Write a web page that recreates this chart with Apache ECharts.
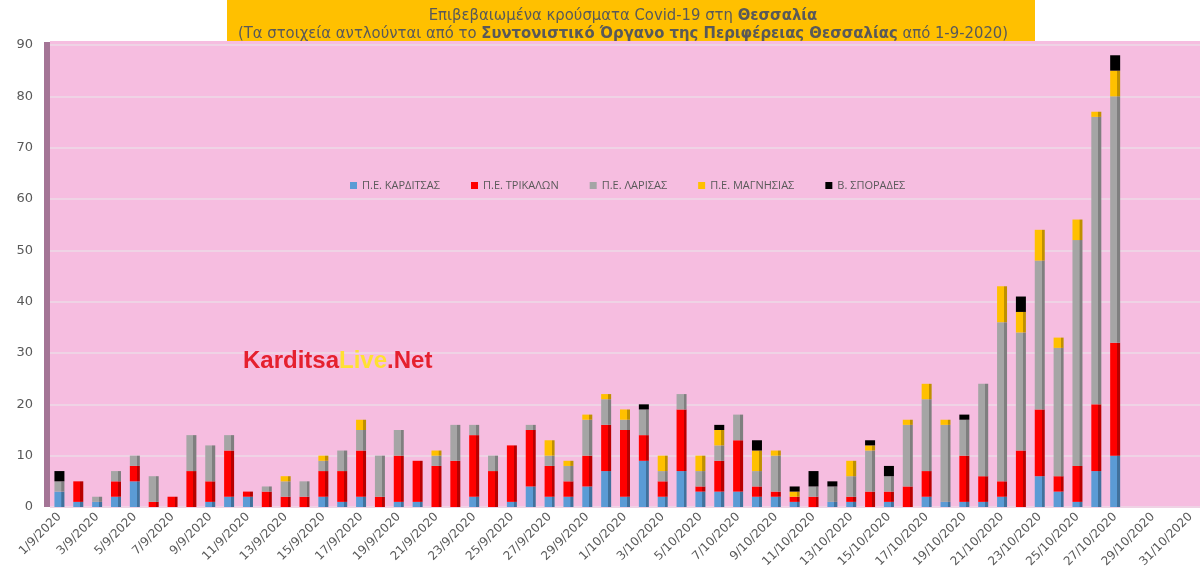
<!DOCTYPE html>
<html>
<head>
<meta charset="utf-8">
<script src="https://cdn.jsdelivr.net/npm/echarts@6/dist/echarts.min.js"></script>
<style>
  html, body { margin: 0; padding: 0; background: #fff; }
  #chart { width: 1200px; height: 583px; }
</style>
</head>
<body>
<div id="chart"></div>
<script>
// ημερομηνίες 1/9 - 31/10
const days = [
  '1/9/2020','2/9/2020','3/9/2020','4/9/2020','5/9/2020','6/9/2020','7/9/2020','8/9/2020','9/9/2020','10/9/2020',
  '11/9/2020','12/9/2020','13/9/2020','14/9/2020','15/9/2020','16/9/2020','17/9/2020','18/9/2020','19/9/2020','20/9/2020',
  '21/9/2020','22/9/2020','23/9/2020','24/9/2020','25/9/2020','26/9/2020','27/9/2020','28/9/2020','29/9/2020','30/9/2020',
  '1/10/2020','2/10/2020','3/10/2020','4/10/2020','5/10/2020','6/10/2020','7/10/2020','8/10/2020','9/10/2020','10/10/2020',
  '11/10/2020','12/10/2020','13/10/2020','14/10/2020','15/10/2020','16/10/2020','17/10/2020','18/10/2020','19/10/2020','20/10/2020',
  '21/10/2020','22/10/2020','23/10/2020','24/10/2020','25/10/2020','26/10/2020','27/10/2020','28/10/2020','29/10/2020','30/10/2020',
  '31/10/2020'
]

// κρούσματα ανά περιφερειακή ενότητα
const karditsa = [3,1,1,2,5,0,0,0,1,2, 2,0,0,0,2,1,2,0,1,1, 0,0,2,0,1,4,2,2,4,7,
  2,9,2,7,3,3,3,2,2,1, 0,1,1,0,1,0,2,1,1,1, 2,0,6,3,1,7,10]
const trikala = [0,4,0,3,3,1,2,7,4,9, 1,3,2,2,5,6,9,2,9,8, 8,9,12,7,11,11,6,3,6,9,
  13,5,3,12,1,6,10,2,1,1, 2,0,1,3,2,4,5,0,9,5, 3,11,13,3,7,13,22]
const larisa = [2,0,1,2,2,5,0,7,7,3, 0,1,3,3,2,4,4,8,5,0, 2,7,2,3,0,1,2,3,7,5,
  2,5,2,3,3,3,5,3,7,0, 2,3,4,8,3,12,14,15,7,18, 31,23,29,25,44,56,48]
const magnisia = [0,0,0,0,0,0,0,0,0,0, 0,0,1,0,1,0,2,0,0,0, 1,0,0,0,0,0,3,1,1,1,
  2,0,3,0,3,3,0,4,1,1, 0,0,3,1,0,1,3,1,0,0, 7,4,6,2,4,1,5]
const sporades = [2,0,0,0,0,0,0,0,0,0, 0,0,0,0,0,0,0,0,0,0, 0,0,0,0,0,0,0,0,0,0,
  0,1,0,0,0,1,0,2,0,1, 3,1,0,1,2,0,0,0,1,0, 0,3,0,0,0,0,3]

const yTicks = [0,10,20,30,40,50,60,70,80,90]

const names = ['Π.Ε. ΚΑΡΔΙΤΣΑΣ','Π.Ε. ΤΡΙΚΑΛΩΝ','Π.Ε. ΛΑΡΙΣΑΣ','Π.Ε. ΜΑΓΝΗΣΙΑΣ','Β. ΣΠΟΡΑΔΕΣ']
const colors = ['#5B9BD5','#FF0000','#A5A5A5','#FFC000','#000000']
const edges = ['#41719C','#B80000','#7F7F7F','#BF9000','#000000']
const values = [karditsa, trikala, larisa, magnisia, sporades]

const chart = echarts.init(document.getElementById('chart'))

const series = names.map((n, i) => ({
  name: n,
  type: 'bar',
  stack: 'total',
  barWidth: 10,
  data: values[i].map(v => (v === 0 ? '-' : v)),
  itemStyle: {
    color: new echarts.graphic.LinearGradient(0, 0, 1, 0, [
      {offset: 0, color: colors[i]},
      {offset: 0.7, color: colors[i]},
      {offset: 0.71, color: edges[i]},
      {offset: 1, color: edges[i]}
    ])
  },
  emphasis: {disabled: true}
}))

chart.setOption({
  animation: false,
  backgroundColor: '#ffffff',
  textStyle: {fontFamily: 'DejaVu Sans'},
  title: {
    left: 618,
    top: 2,
    textAlign: 'center',
    text: '{n|Επιβεβαιωμένα κρούσματα Covid-19 στη }{b|Θεσσαλία}\n{n|(Τα στοιχεία αντλούνται από το }{b|Συντονιστικό Όργανο της Περιφέρειας Θεσσαλίας}{n| από 1-9-2020)}',
    textStyle: {
      fontWeight: 'normal',
      rich: {
        n: {fontSize: 16.5, color: '#595959', fontWeight: 'normal', fontFamily: 'DejaVu Sans Condensed', lineHeight: 18},
        b: {fontSize: 16.5, color: '#595959', fontWeight: 'bold', fontFamily: 'DejaVu Sans Condensed', lineHeight: 18}
      }
    }
  },
  graphic: [
    {type: 'rect', z: -10, shape: {x: 227, y: 0, width: 808, height: 41}, style: {fill: '#FFC000'}},
    {type: 'rect', z: -10, shape: {x: 50, y: 41, width: 1150, height: 466}, style: {fill: '#F6BDE0'}},
    {type: 'rect', z: -9, shape: {x: 44, y: 42, width: 6, height: 465}, style: {fill: '#A47596'}},
    {
      type: 'text', left: 243, top: 349, z: 10,
      style: {
        text: '{r|Karditsa}{y|Live}{r|.Net}',
        rich: {
          r: {fontSize: 24, fontWeight: 'bold', fill: '#E5202E', fontFamily: 'Liberation Sans'},
          y: {fontSize: 24, fontWeight: 'bold', fill: '#FFE033', fontFamily: 'Liberation Sans'}
        }
      }
    }
  ],
  legend: {
    left: 345,
    top: 175,
    itemWidth: 7,
    itemHeight: 7,
    itemGap: 31,
    icon: 'rect',
    textStyle: {fontSize: 11, color: '#595959', fontFamily: 'Open Sans'},
    data: names.map((n, i) => ({name: n, itemStyle: {color: colors[i]}}))
  },
  grid: {left: 50, right: 0, top: 45, bottom: 76, containLabel: false},
  xAxis: {
    type: 'category',
    data: days,
    axisLine: {show: false},
    axisTick: {show: false},
    axisLabel: {
      interval: 1,
      rotate: 45,
      fontSize: 12,
      color: '#595959',
      margin: 8,
      fontFamily: 'DejaVu Sans'
    }
  },
  yAxis: {
    type: 'value',
    min: yTicks[0],
    max: yTicks[yTicks.length - 1],
    interval: 10,
    axisLine: {show: false},
    axisTick: {show: false},
    axisLabel: {fontSize: 13, color: '#595959', margin: 17, fontFamily: 'DejaVu Sans'},
    splitLine: {lineStyle: {color: '#EFD3E5', width: 2}}
  },
  series: series
})
</script>
</body>
</html>
